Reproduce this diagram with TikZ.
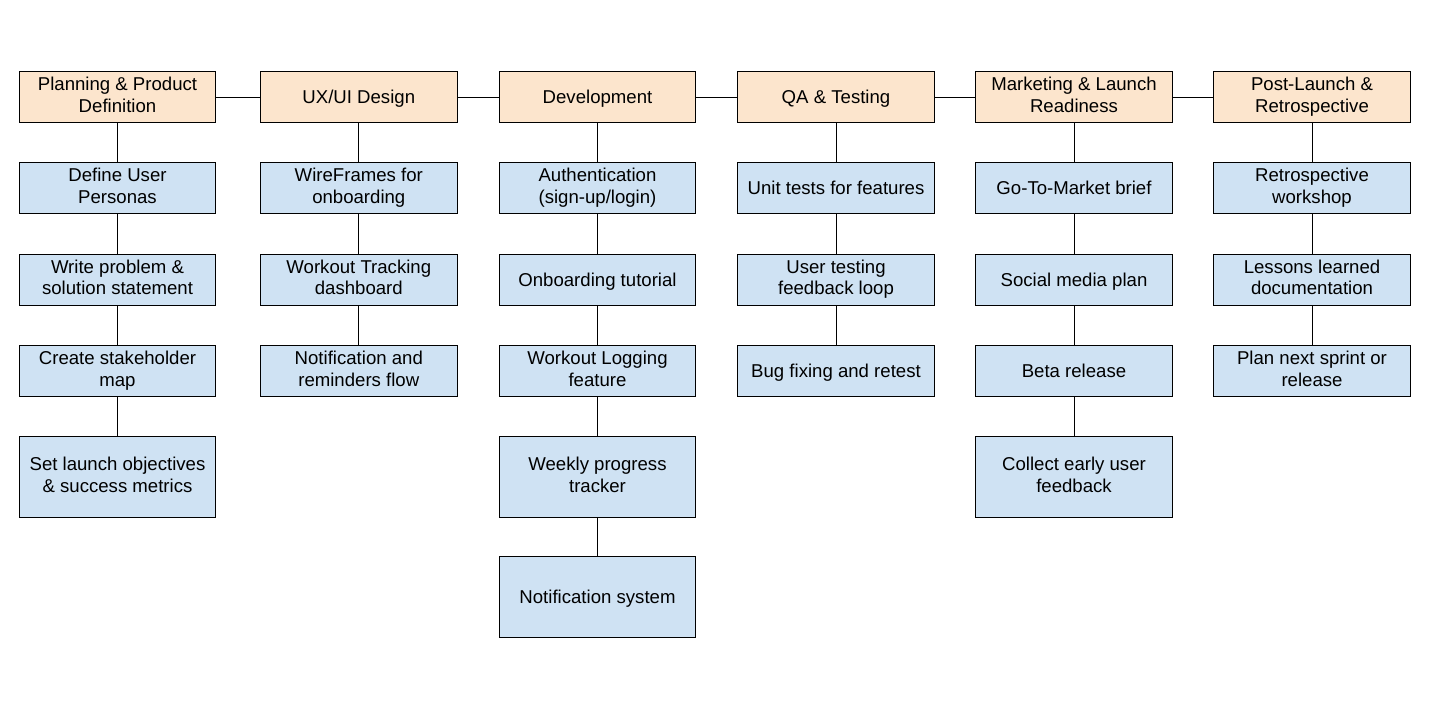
\documentclass[tikz,border=0pt]{standalone}
\usepackage{fontspec}
\setmainfont{Liberation Sans}
\definecolor{phasefill}{HTML}{FCE5CD}
\definecolor{taskfill}{HTML}{CFE2F3}

\begin{document}
\begin{tikzpicture}[x=1pt,y=-1pt,
        box/.style={draw=black, line width=1pt, minimum width=196.4pt, minimum height=51pt,
            inner sep=0pt, align=center, font=\fontsize{18.6}{21.7}\selectfont,
            execute at begin node={\rule{0pt}{17.8pt}},
            execute at end node={\rule[-4.5pt]{0pt}{4.5pt}}},
        phase/.style={box, fill=phasefill},
        task/.style={box, fill=taskfill},
        tall/.style={task, minimum height=81pt},
        link/.style={draw=black, line width=1pt}]
        \useasboundingbox (0,0) rectangle (1453,709);
        % phases
        \node[phase] (plan) at (117.5,97) {Planning \& Product\\Definition};
        \node[phase] (ux) at (358.8,97) {UX/UI Design};
        \node[phase] (dev) at (597.5,97) {Development};
        \node[phase] (qa) at (836,97) {QA \& Testing};
        \node[phase] (mkt) at (1074,97) {Marketing \& Launch\\Readiness};
        \node[phase] (post) at (1312,97) {Post-Launch \&\\Retrospective};
        % planning
        \node[task] (plan1) at (117.5,187.8) {Define User\\Personas};
        \node[task] (plan2) at (117.5,279.5) {Write problem \&\\solution statement};
        \node[task] (plan3) at (117.5,370.7) {Create stakeholder\\map};
        \node[tall] (plan4) at (117.5,476.8) {Set launch objectives\\\& success metrics};
        % design
        \node[task] (ux1) at (358.8,187.8) {WireFrames for\\onboarding};
        \node[task] (ux2) at (358.8,279.5) {Workout Tracking\\dashboard};
        \node[task] (ux3) at (358.8,370.7) {Notification and\\reminders flow};
        % development
        \node[task] (dev1) at (597.5,187.8) {Authentication\\(sign-up/login)};
        \node[task] (dev2) at (597.5,279.5) {Onboarding tutorial};
        \node[task] (dev3) at (597.5,370.7) {Workout Logging\\feature};
        \node[tall] (dev4) at (597.5,476.8) {Weekly progress\\tracker};
        \node[tall] (dev5) at (597.5,597.3) {Notification system};
        % testing
        \node[task] (qa1) at (836,187.8) {Unit tests for features};
        \node[task] (qa2) at (836,279.5) {User testing\\feedback loop};
        \node[task] (qa3) at (836,370.7) {Bug fixing and retest};
        % marketing
        \node[task] (mkt1) at (1074,187.8) {Go-To-Market brief};
        \node[task] (mkt2) at (1074,279.5) {Social media plan};
        \node[task] (mkt3) at (1074,370.7) {Beta release};
        \node[tall] (mkt4) at (1074,476.8) {Collect early user\\feedback};
        % post launch
        \node[task] (post1) at (1312,187.8) {Retrospective\\workshop};
        \node[task] (post2) at (1312,279.5) {Lessons learned\\documentation};
        \node[task] (post3) at (1312,370.7) {Plan next sprint or\\release};
        % links
        \draw[link] (plan) -- (ux) -- (dev) -- (qa) -- (mkt) -- (post);
        \draw[link] (plan) -- (plan1) -- (plan2) -- (plan3) -- (plan4);
        \draw[link] (ux) -- (ux1) -- (ux2) -- (ux3);
        \draw[link] (dev) -- (dev1) -- (dev2) -- (dev3) -- (dev4) -- (dev5);
        \draw[link] (qa) -- (qa1) -- (qa2) -- (qa3);
        \draw[link] (mkt) -- (mkt1) -- (mkt2) -- (mkt3) -- (mkt4);
        \draw[link] (post) -- (post1) -- (post2) -- (post3);
    \end{tikzpicture}
\end{document}
